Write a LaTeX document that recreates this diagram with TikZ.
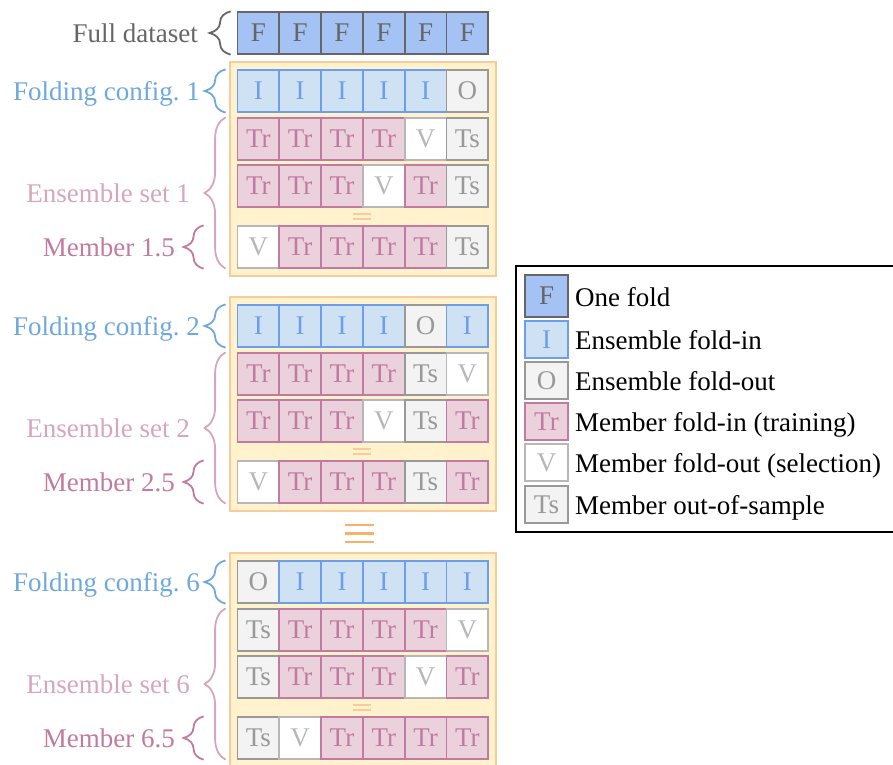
\documentclass[tikz,border=0pt]{standalone}
\usepackage{fontspec}
\setmainfont{Liberation Serif}
\usetikzlibrary{decorations.pathreplacing}

\definecolor{cFfill}{HTML}{A4C2F4}
\definecolor{cFline}{HTML}{666666}
\definecolor{cIfill}{HTML}{CFE2F3}
\definecolor{cIline}{HTML}{6D9EEB}
\definecolor{cOfill}{HTML}{F3F3F3}
\definecolor{cOline}{HTML}{999999}
\definecolor{cTrfill}{HTML}{EAD1DC}
\definecolor{cTrline}{HTML}{C27BA0}
\definecolor{cVline}{HTML}{B7B7B7}
\definecolor{boxfill}{HTML}{FFF2CC}
\definecolor{boxline}{HTML}{F9CB9C}
\definecolor{bigdots}{HTML}{F6B26B}
\definecolor{lblfold}{HTML}{6FA8DC}
\definecolor{lblens}{HTML}{D5A6BD}
\definecolor{lblmem}{HTML}{C27BA0}
\definecolor{lblfull}{HTML}{666666}

% one row of six folds; #1 name prefix, #2 top edge, #3 fold kinds
\newcommand\foldrow[3]{%
  \edef\foldlist{#3}%
  \foreach \fc [count=\i from 0] in \foldlist {%
    \node[cell, cell\fc] (#1-\i) at (258.4+41.8*\i, #2+21) {\fc};}}

\begin{document}
\begin{tikzpicture}[x=1pt, y=-1pt,
  every node/.style={font=\fontsize{27}{30}\selectfont, inner sep=0pt},
  cell/.style={draw, line width=1.8pt, minimum width=41.8pt, minimum height=41.5pt},
  cellF/.style={fill=cFfill, draw=cFline, text=cFline},
  cellI/.style={fill=cIfill, draw=cIline, text=cIline},
  cellO/.style={fill=cOfill, draw=cOline, text=cOline},
  cellTr/.style={fill=cTrfill, draw=cTrline, text=cTrline},
  cellV/.style={fill=white, draw=cVline, text=cVline},
  cellTs/.style={fill=cOfill, draw=cOline, text=cOline},
  ensbox/.style={draw=boxline, fill=boxfill, line width=2pt,
    minimum width=266pt, minimum height=214pt},
  smalleq/.style={draw=boxline, line width=1.5pt},
  bigeq/.style={draw=bigdots, line width=2.5pt},
  curly/.style={decorate, line width=1.8pt,
    decoration={brace, amplitude=#1}},
  curly/.default=21pt,
  legcell/.style={cell, minimum width=43pt, minimum height=37pt},
  legtext/.style={anchor=base west, text=black},
]
\useasboundingbox (0,0) rectangle (893,764);

% full dataset
\foldrow{full}{12}{F,F,F,F,F,F}
\node[anchor=base east, text=lblfull] (lfull) at (198,42) {Full dataset};
\draw[curly, draw=lblfull] ([xshift=-6pt]full-0.south west) -- ([xshift=-6pt]full-0.north west);

% ensemble blocks
\foreach \b/\T/\fold/\ra/\rb/\rm in {
  1/62/{I,I,I,I,I,O}/{Tr,Tr,Tr,Tr,V,Ts}/{Tr,Tr,Tr,V,Tr,Ts}/{V,Tr,Tr,Tr,Tr,Ts},
  2/297/{I,I,I,I,O,I}/{Tr,Tr,Tr,Tr,Ts,V}/{Tr,Tr,Tr,V,Ts,Tr}/{V,Tr,Tr,Tr,Ts,Tr},
  6/553/{O,I,I,I,I,I}/{Ts,Tr,Tr,Tr,Tr,V}/{Ts,Tr,Tr,Tr,V,Tr}/{Ts,V,Tr,Tr,Tr,Tr}}{
  \node[ensbox] (box\b) at (363, \T+107) {};
  \foldrow{fc\b}{\T+8}{\fold}
  \foldrow{ra\b}{\T+56}{\ra}
  \foldrow{rb\b}{\T+103}{\rb}
  \foldrow{rm\b}{\T+164}{\rm}
  \draw[smalleq] (353, \T+152) -- (371, \T+152) (353, \T+157) -- (371, \T+157);
  % labels and braces
  \draw[curly, draw=lblfold] ([xshift=-11pt]fc\b-0.south west) -- ([xshift=-11pt]fc\b-0.north west);
  \node[anchor=base east, text=lblfold] (lfold\b) at (200, \T+38) {Folding config.~\b};
  \draw[curly, draw=lblens] ([xshift=-11pt]rm\b-0.south west) -- ([xshift=-11pt]ra\b-0.north west);
  \node[anchor=base east, text=lblens] (lens\b) at (190, \T+140) {Ensemble set \b};
  \draw[curly=20pt, draw=lblmem] ([xshift=-33pt]rm\b-0.south west) -- ([xshift=-33pt]rm\b-0.north west);
  \node[anchor=base east, text=lblmem] (lmem\b) at (175, \T+194) {Member \b.5};
}

% gap between ensemble set 2 and 6
\draw[bigeq] (345,525) -- (374,525) (345,533.5) -- (374,533.5) (345,542) -- (374,542);

% legend
\draw[line width=2pt, draw=black] (516,266) rectangle (900,532);
\node[legcell, cellF, minimum height=42pt] (kF) at (546.5,296) {F};
\node[legtext] at (575,306) {One fold};
\node[legcell, cellI] (kI) at (546.5,339.5) {I};
\node[legtext] at (575,349) {Ensemble fold-in};
\node[legcell, cellO] (kO) at (546.5,380.5) {O};
\node[legtext] at (575,390) {Ensemble fold-out};
\node[legcell, cellTr] (kTr) at (546.5,421.5) {Tr};
\node[legtext] at (575,431) {Member fold-in (training)};
\node[legcell, cellV] (kV) at (546.5,462.5) {V};
\node[legtext] at (575,472) {Member fold-out (selection)};
\node[legcell, cellTs] (kTs) at (546.5,504.5) {Ts};
\node[legtext] at (575,514) {Member out-of-sample};
\end{tikzpicture}
\end{document}
